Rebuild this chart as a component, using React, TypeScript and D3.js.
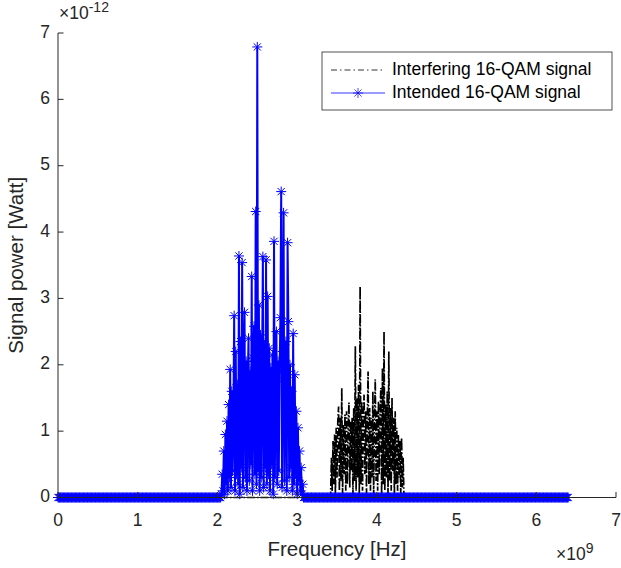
import React, { useMemo } from 'react';
import * as d3 from 'd3';

// Axis ticks (x in units of 1e9 Hz, y in units of 1e-12 W)
const xTicks = [0, 1, 2, 3, 4, 5, 6, 7];
const yTicks = [0, 1, 2, 3, 4, 5, 6, 7];

// Frequency grid (GHz)
const freqStepGHz = 0.01;
const freqEndGHz = 6.4;

// Intended 16-QAM signal: band samples from 2.05 GHz (values ×1e-12 W)
const intendedStartGHz = 2.05;
const intendedValues = [
  0.05, 0.35, 0.1, 0.7, 0.05, 0.95, 0.2, 1.15, 0.1, 1.4,
  0.3, 1.93, 0.15, 1.6, 0.4, 1.2, 2.74, 0.1, 2.2, 0.35,
  1.7, 0.2, 3.64, 0.05, 2.35, 0.45, 3.54, 0.15, 1.85, 2.79,
  0.3, 2.05, 0.1, 1.75, 2.4, 0.25, 1.9, 0.5, 3.33, 0.1,
  2.1, 2.58, 0.35, 4.31, 0.2, 6.79, 0.4, 2.9, 0.1, 2.45,
  0.3, 2.0, 3.63, 0.15, 2.3, 0.45, 3.58, 0.2, 3.03, 0.35,
  2.25, 0.1, 1.95, 0.5, 2.15, 0.05, 3.86, 0.3, 1.8, 2.5,
  0.2, 2.05, 0.4, 1.9, 2.71, 4.61, 0.15, 2.2, 4.29, 0.25,
  1.75, 2.35, 0.1, 3.84, 2.65, 0.3, 2.0, 0.45, 1.6, 0.1,
  2.47, 0.2, 1.85, 0.35, 1.3, 0.05, 1.05, 0.25, 0.7, 0.1,
  0.45, 0.05, 0.2,
];

// Interfering 16-QAM signal: band samples from 3.42 GHz (values ×1e-12 W)
const interferingStartGHz = 3.42;
const interferingValues = [
  0.05, 0.6, 0.1, 0.85, 0.2, 0.95, 0.05, 1.05, 0.3, 1.15,
  1.37, 0.1, 1.2, 0.25, 1.65, 0.05, 1.1, 0.35, 1.25, 0.1,
  1.3, 0.2, 1.05, 1.43, 0.15, 1.15, 0.4, 1.2, 0.05, 1.35,
  0.25, 2.28, 0.1, 1.5, 0.3, 1.7, 0.05, 3.18, 0.2, 1.45,
  0.1, 1.25, 1.55, 0.35, 1.3, 0.05, 1.15, 1.9, 0.2, 1.35,
  0.1, 1.2, 0.3, 1.6, 0.05, 1.1, 1.78, 0.25, 1.3, 0.1,
  1.45, 0.35, 1.25, 1.65, 0.05, 1.95, 0.2, 2.5, 0.1, 1.4,
  0.3, 1.6, 0.05, 2.2, 0.25, 1.35, 0.1, 1.5, 0.4, 1.2,
  0.05, 1.3, 0.2, 1.05, 0.1, 0.95, 0.3, 0.85, 0.05, 0.9,
  0.15, 0.6,
];

const legendLabels = ['Interfering 16-QAM signal', 'Intended 16-QAM signal'];

const W = 621;
const H = 568;
const PL = 58;
const PR = 616;
const PT = 33;
const PB = 497.5;
const FONT = '"Liberation Sans", Arial, Helvetica, sans-serif';
const AX = '#262626';
const BLUE = '#0000ff';
const MR = 5;

type Pt = { f: number; v: number };

function buildSeries(startGHz: number, values: number[]): Pt[] {
  const n = Math.round(freqEndGHz / freqStepGHz);
  const pts: Pt[] = [];
  const off = Math.round(startGHz / freqStepGHz);
  for (let i = 0; i <= n; i++) {
    const j = i - off;
    pts.push({ f: i * freqStepGHz, v: j >= 0 && j < values.length ? values[j] : 0 });
  }
  return pts;
}

function starPath(x: number, y: number, r: number) {
  const d = r * 0.72;
  return `M${x - r},${y}L${x + r},${y}M${x},${y - r}L${x},${y + r}` +
    `M${x - d},${y - d}L${x + d},${y + d}M${x - d},${y + d}L${x + d},${y - d}`;
}

export default function App() {
  const x = d3.scaleLinear().domain([0, 7]).range([PL, PR]);
  const y = d3.scaleLinear().domain([0, 7]).range([PB, PT]);

  const intended = useMemo(() => buildSeries(intendedStartGHz, intendedValues), []);
  const interfering = useMemo(() => buildSeries(interferingStartGHz, interferingValues), []);

  const line = d3.line<Pt>().x((d) => x(d.f)).y((d) => y(d.v));
  const markers = intended.map((d) => starPath(x(d.f), y(d.v), MR)).join('');

  const legX = 322;
  const legY = 52;
  const legW = 290;
  const legH = 58;
  const row1 = 70;
  const row2 = 93;

  return (
    <svg width={W} height={H} style={{ position: 'absolute', left: 0, top: 0, background: '#fff' }}>
      <rect x={0} y={0} width={W} height={H} fill="#fff" />
      {/* data */}
      <path d={line(interfering) || ''} fill="none" stroke="#000" strokeWidth={1.7} strokeDasharray="8,2,1.5,2" />
      <path d={line(intended) || ''} fill="none" stroke={BLUE} strokeWidth={2} />
      <path d={markers} fill="none" stroke={BLUE} strokeWidth={1} />

      {/* axes */}
      <line x1={PL} x2={PR} y1={PB} y2={PB} stroke={AX} strokeWidth={1} />
      <line x1={PL} x2={PL} y1={PT} y2={PB} stroke={AX} strokeWidth={1} />
      {xTicks.map((t) => (
        <g key={'x' + t}>
          <line x1={x(t)} x2={x(t)} y1={PB} y2={PB - 5.5} stroke={AX} strokeWidth={1} />
          <text x={x(t)} y={521} textAnchor="middle" dominantBaseline="middle" fontFamily={FONT} fontSize={17.5} fill={AX}>{t}</text>
        </g>
      ))}
      {yTicks.map((t) => (
        <g key={'y' + t}>
          <line x1={PL} x2={PL + 5.5} y1={y(t)} y2={y(t)} stroke={AX} strokeWidth={1} />
          <text x={PL - 8} y={y(t)} textAnchor="end" dominantBaseline="middle" fontFamily={FONT} fontSize={17.5} fill={AX}>{t}</text>
        </g>
      ))}
      {/* exponents */}
      <text x={59} y={19} fontFamily={FONT} fontSize={17.5} fill={AX}>
        ×10<tspan dy={-7} fontSize={14}>-12</tspan>
      </text>
      <text x={556} y={560} fontFamily={FONT} fontSize={17.5} fill={AX}>
        ×10<tspan dy={-7} fontSize={14}>9</tspan>
      </text>
      {/* axis labels */}
      <text x={(PL + PR) / 2} y={551} textAnchor="middle" dominantBaseline="middle" fontFamily={FONT} fontSize={20.5} fill={AX}>Frequency [Hz]</text>
      <text transform={`translate(18,${(PT + PB) / 2}) rotate(-90)`} textAnchor="middle" dominantBaseline="middle" fontFamily={FONT} fontSize={20.5} fill={AX}>Signal power [Watt]</text>

      {/* legend */}
      <rect x={legX} y={legY} width={legW} height={legH} fill="#fff" stroke={AX} strokeWidth={0.8} />
      <line x1={331} x2={385} y1={row1} y2={row1} stroke="#000" strokeWidth={0.8} strokeDasharray="6,3,1.5,3" />
      <line x1={331} x2={385} y1={row2} y2={row2} stroke={BLUE} strokeWidth={0.8} />
      <path d={starPath(358, row2, MR)} fill="none" stroke={BLUE} strokeWidth={0.7} />
      <text x={392} y={row1} dominantBaseline="middle" fontFamily={FONT} fontSize={17.5} fill="#000">{legendLabels[0]}</text>
      <text x={392} y={row2} dominantBaseline="middle" fontFamily={FONT} fontSize={17.5} fill="#000">{legendLabels[1]}</text>
    </svg>
  );
}
